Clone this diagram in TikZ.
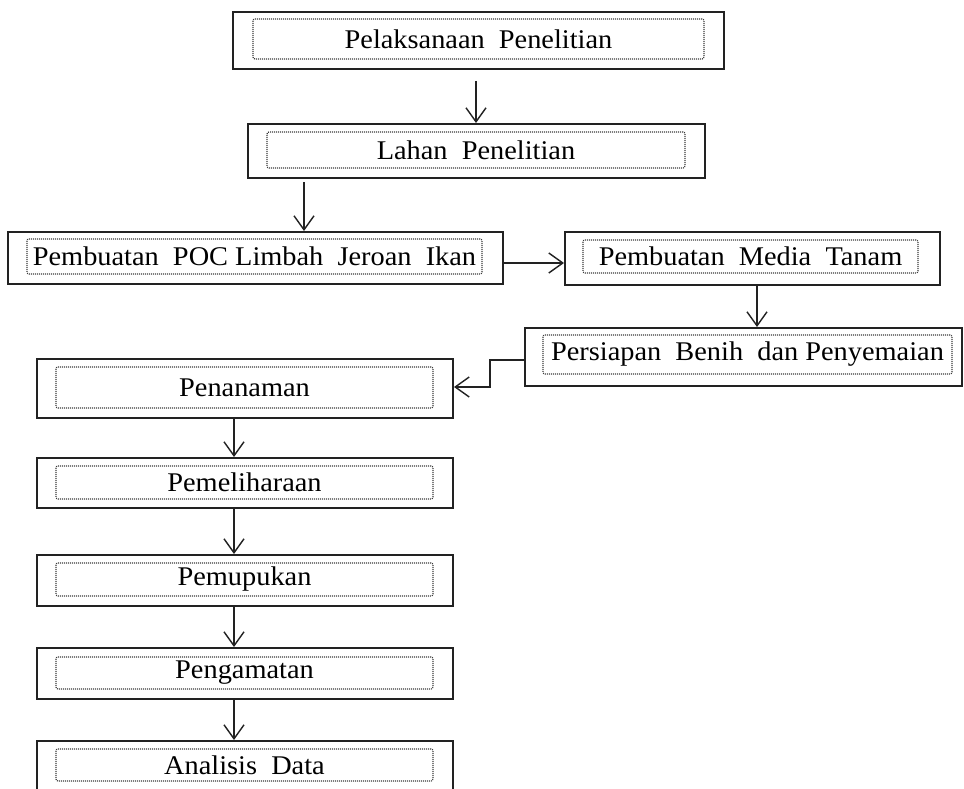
\documentclass[tikz,border=0pt]{standalone}
\usepackage{fontspec}
\setmainfont{Liberation Serif}[FakeStretch=1.05]
\usetikzlibrary{arrows.meta}
\definecolor{ink}{HTML}{222222}
\definecolor{dotc}{HTML}{3A3A3A}
\tikzset{
  outerbox/.style={draw=ink, line width=2pt, rectangle, inner sep=0pt},
  innerbox/.style={draw=dotc, line width=1.2pt, dash pattern=on 1pt off 1pt, rounded corners=2pt, rectangle, inner sep=0pt,
    font=\fontsize{27}{32}\selectfont, text=black},
  arr/.style={draw=ink, line width=1.4pt, -{Straight Barb[length=14pt,width=20pt,line width=1.4pt]}}
}
\begin{document}
\begin{tikzpicture}[x=1pt,y=-1pt]
\clip (0,0) rectangle (964,789);
\fill[white] (0,0) rectangle (964,789);
% outer boxes
\node[outerbox, minimum width=491pt, minimum height=57pt] (o1) at (478.5,40.5) {};
\node[outerbox, minimum width=457pt, minimum height=54pt] (o2) at (476.5,151) {};
\node[outerbox, minimum width=495pt, minimum height=52pt] (o3) at (255.5,258) {};
\node[outerbox, minimum width=375pt, minimum height=53pt] (o4) at (752.5,258.5) {};
\node[outerbox, minimum width=437pt, minimum height=58pt] (o5) at (743.5,357) {};
\node[outerbox, minimum width=416pt, minimum height=59pt] (o6) at (245,388.5) {};
\node[outerbox, minimum width=416pt, minimum height=50pt] (o7) at (245,483) {};
\node[outerbox, minimum width=416pt, minimum height=51pt] (o8) at (245,580.5) {};
\node[outerbox, minimum width=416pt, minimum height=51pt] (o9) at (245,673.5) {};
\node[outerbox, minimum width=416pt, minimum height=51pt] (o10) at (245,766.5) {};
% inner dotted boxes with text
\node[innerbox, minimum width=451pt, minimum height=40pt] (i1) at (478.5,39) {Pelaksanaan\ \ Penelitian};
\node[innerbox, minimum width=418pt, minimum height=36pt] (i2) at (476,150) {Lahan\ \ Penelitian};
\node[innerbox, minimum width=455pt, minimum height=35pt] (i3) at (254.5,256.5) {Pembuatan\ \ POC Limbah\ \ Jeroan\ \ Ikan};
\node[innerbox, minimum width=335pt, minimum height=33pt] (i4) at (750.5,256.5) {Pembuatan\ \ Media\ \ Tanam};
\node[innerbox, minimum width=409pt, minimum height=39pt] (i5) at (747.5,354.5) {Persiapan\ \ Benih\ \ dan Penyemaian};
\node[innerbox, minimum width=377pt, minimum height=41pt] (i6) at (244.5,387.5) {Penanaman};
\node[innerbox, minimum width=377pt, minimum height=33pt] (i7) at (244.5,482.5) {Pemeliharaan};
\node[innerbox, minimum width=377pt, minimum height=33pt] (i8) at (244.5,579.5) {Pemupukan};
\node[innerbox, minimum width=377pt, minimum height=32pt] (i9) at (244.5,673) {Pengamatan};
\node[innerbox, minimum width=377pt, minimum height=32pt] (i10) at (244.5,765) {Analisis\ \ Data};
% helper coordinates
\coordinate (c1) at (476,0);
\coordinate (c2) at (304,0);
\coordinate (c3) at (0,263);
\coordinate (c4) at (757,0);
\coordinate (c5a) at (0,360);
\coordinate (c5b) at (490,387);
\coordinate (c6) at (234,0);
% connectors
\draw[arr] ([yshift=-11pt]o1.south -| c1) -- (o2.north -| c1);
\draw[arr] ([yshift=-3pt]o2.south -| c2) -- (o3.north -| c2);
\draw[arr] (o3.east |- c3) -- (o4.west |- c3);
\draw[arr] (o4.south -| c4) -- (o5.north -| c4);
\draw[arr] (o5.west |- c5a) -| (c5b) -- (o6.east |- c5b);
\draw[arr] (o6.south -| c6) -- (o7.north -| c6);
\draw[arr] (o7.south -| c6) -- (o8.north -| c6);
\draw[arr] (o8.south -| c6) -- (o9.north -| c6);
\draw[arr] (o9.south -| c6) -- (o10.north -| c6);
\end{tikzpicture}
\end{document}
